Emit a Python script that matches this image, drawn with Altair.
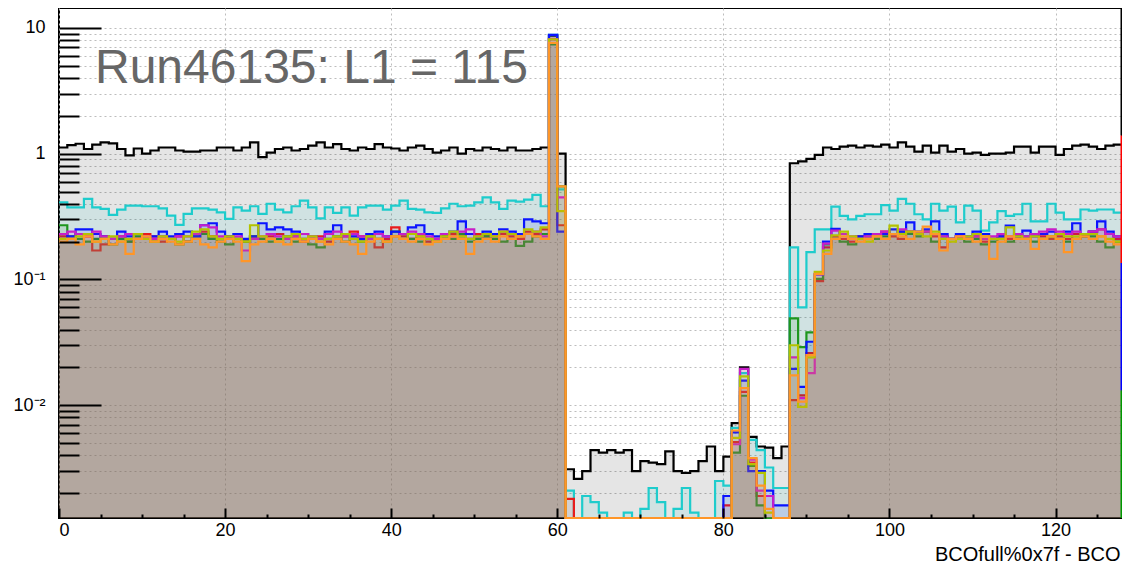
import altair as alt
import pandas as pd

W, H = 1063, 510
Y_MIN, Y_MAX = 0.00127, 14.4
FONT = "Liberation Sans"
GRID = "#bdbdbd"

TITLE_TEXT = "Run46135: L1 = 115"
X_TITLE = "BCOfull%0x7f - BCO"

x_major = [0, 20, 40, 60, 80, 100, 120]
x_minor = [5, 10, 15, 25, 30, 35, 45, 50, 55, 65, 70, 75, 85, 90, 95, 105, 110, 115, 125]
y_major = [0.01, 0.1, 1, 10]
y_minor = [k / 1000 for k in range(2, 10)] + [k / 100 for k in range(2, 10)] + \
          [k / 10 for k in range(2, 10)] + [float(k) for k in range(2, 10)]
y_all = sorted(y_major + y_minor)

# ---- histogram contents, bins 0..127 (bin width 1) ----
black = [1.12, 1.17, 1.20, 1.09, 1.18, 1.23, 1.21, 1.09, 0.97, 1.10,
         1.00, 1.06, 1.12, 1.12, 1.06, 1.04, 1.04, 1.06, 1.06, 1.12,
         1.12, 1.06, 1.12, 1.23, 0.94, 1.02, 1.09, 1.12, 1.06, 1.09,
         1.16, 1.23, 1.12, 1.19, 1.09, 1.06, 1.12, 1.09, 1.19, 1.12,
         1.10, 1.06, 1.12, 1.16, 1.09, 1.02, 1.06, 1.12, 1.00, 1.09,
         1.06, 1.12, 1.09, 1.06, 1.12, 1.06, 1.06, 1.09, 1.12,
         8.7, 1.0,
         0.0031, 0.0026, 0.0030, 0.0044, 0.0042, 0.0044, 0.0042, 0.0044, 0.0030, 0.0036,
         0.0035, 0.0034, 0.0043, 0.0030, 0.0029, 0.0030, 0.0036, 0.0047, 0.0030, 0.0039,
         0.0072, 0.020, 0.0056, 0.0047, 0.0046, 0.0038, 0.0047,
         0.84, 0.87, 0.91, 0.98, 1.12, 1.09, 1.14, 1.16, 1.12, 1.16,
         1.14, 1.18, 1.12, 1.23, 1.14, 1.04, 1.16, 1.02, 1.16, 1.04,
         1.09, 1.00, 1.02, 0.98, 1.00, 1.00, 1.02, 1.14, 1.14, 1.02,
         1.14, 1.14, 0.98, 1.09, 1.16, 1.18, 1.14, 1.09, 1.16, 1.18]

cyan = [0.41, 0.375, 0.375, 0.437, 0.375, 0.364, 0.326, 0.359, 0.387, 0.387,
        0.382, 0.382, 0.368, 0.322, 0.272, 0.332, 0.368, 0.368, 0.359, 0.342,
        0.303, 0.375, 0.353, 0.382, 0.332, 0.40, 0.359, 0.342, 0.382, 0.424,
        0.375, 0.306, 0.375, 0.338, 0.375, 0.322, 0.375, 0.387, 0.387, 0.359,
        0.387, 0.424, 0.364, 0.359, 0.342, 0.338, 0.368, 0.40, 0.382, 0.387,
        0.41, 0.45, 0.41, 0.364, 0.424, 0.416, 0.432, 0.47, 0.382,
        8.8, 0.52,
        0.0021, 0, 0.0019, 0.0017, 0.0014, 0, 0, 0.0014, 0, 0.0015,
        0.0022, 0.0017, 0, 0.0015, 0.0022, 0.0014, 0, 0, 0.0025, 0.0023,
        0.0066, 0.018, 0.0053, 0.0044, 0.0032, 0.0022, 0.0022,
        0.18, 0.06, 0.165, 0.25, 0.25, 0.38, 0.32, 0.30, 0.32, 0.33,
        0.33, 0.39, 0.353, 0.437, 0.40, 0.33, 0.30, 0.40, 0.353, 0.38,
        0.285, 0.387, 0.353, 0.245, 0.285, 0.35, 0.32, 0.33, 0.40, 0.29,
        0.29, 0.40, 0.34, 0.30, 0.30, 0.36, 0.353, 0.36, 0.36, 0.34]

red = [0.22, 0.21, 0.23, 0.22, 0.17, 0.19, 0.21, 0.22, 0.20, 0.21,
       0.23, 0.22, 0.20, 0.21, 0.22, 0.20, 0.23, 0.24, 0.22, 0.21,
       0.22, 0.21, 0.20, 0.22, 0.21, 0.22, 0.23, 0.21, 0.22, 0.20,
       0.21, 0.22, 0.20, 0.21, 0.22, 0.24, 0.22, 0.21, 0.18, 0.21,
       0.26, 0.22, 0.21, 0.22, 0.20, 0.21, 0.22, 0.23, 0.22, 0.21,
       0.23, 0.22, 0.21, 0.23, 0.22, 0.21, 0.24, 0.23, 0.25,
       8.2, 0.27,
       0.0018, 0, 0, 0, 0, 0, 0, 0, 0, 0,
       0, 0, 0, 0, 0, 0, 0, 0, 0, 0.0016,
       0.0051, 0.0128, 0.0035, 0.0019, 0, 0, 0,
       0.011, 0.012, 0.026, 0.097, 0.18, 0.22, 0.21, 0.20, 0.22, 0.21,
       0.23, 0.24, 0.22, 0.21, 0.24, 0.23, 0.24, 0.22, 0.18, 0.21,
       0.22, 0.21, 0.22, 0.20, 0.21, 0.22, 0.21, 0.22, 0.21, 0.23,
       0.22, 0.21, 0.22, 0.21, 0.23, 0.22, 0.24, 0.25, 0.23, 0.21]

green = [0.27, 0.22, 0.21, 0.20, 0.21, 0.22, 0.19, 0.21, 0.20, 0.22,
         0.21, 0.20, 0.22, 0.21, 0.19, 0.20, 0.22, 0.23, 0.21, 0.20,
         0.19, 0.21, 0.20, 0.22, 0.21, 0.20, 0.21, 0.22, 0.20, 0.21,
         0.19, 0.18, 0.21, 0.22, 0.20, 0.21, 0.20, 0.22, 0.21, 0.20,
         0.24, 0.23, 0.21, 0.20, 0.21, 0.20, 0.22, 0.21, 0.23, 0.20,
         0.21, 0.22, 0.21, 0.20, 0.21, 0.185, 0.20, 0.22, 0.23,
         7.4, 0.55,
         0, 0, 0, 0, 0, 0, 0, 0, 0, 0,
         0, 0, 0, 0, 0, 0, 0, 0, 0, 0,
         0.0042, 0.0119, 0.0033, 0.0016, 0, 0, 0,
         0.049, 0.029, 0.038, 0.101, 0.19, 0.21, 0.20, 0.19, 0.21, 0.22,
         0.21, 0.22, 0.23, 0.24, 0.23, 0.22, 0.24, 0.20, 0.22, 0.21,
         0.22, 0.20, 0.21, 0.19, 0.20, 0.21, 0.20, 0.21, 0.22, 0.20,
         0.21, 0.22, 0.21, 0.20, 0.21, 0.22, 0.22, 0.20, 0.18, 0.20]

blue = [0.23, 0.22, 0.25, 0.25, 0.23, 0.22, 0.21, 0.24, 0.22, 0.23,
        0.21, 0.22, 0.24, 0.22, 0.23, 0.24, 0.22, 0.27, 0.28, 0.24,
        0.22, 0.23, 0.21, 0.22, 0.28, 0.25, 0.26, 0.25, 0.24, 0.23,
        0.22, 0.21, 0.24, 0.27, 0.23, 0.22, 0.21, 0.23, 0.24, 0.22,
        0.24, 0.23, 0.26, 0.27, 0.23, 0.22, 0.23, 0.24, 0.29, 0.23,
        0.22, 0.24, 0.23, 0.25, 0.24, 0.23, 0.30, 0.29, 0.28,
        8.8, 0.24,
        0, 0, 0, 0, 0, 0, 0, 0, 0, 0,
        0, 0, 0, 0, 0, 0, 0, 0, 0, 0.0019,
        0.0061, 0.0157, 0.0030, 0.0030, 0.0021, 0.0016, 0.0016,
        0.0195, 0.014, 0.032, 0.11, 0.20, 0.253, 0.23, 0.21, 0.22, 0.23,
        0.22, 0.23, 0.25, 0.24, 0.285, 0.24, 0.25, 0.29, 0.23, 0.21,
        0.23, 0.22, 0.24, 0.23, 0.21, 0.22, 0.268, 0.22, 0.245, 0.22,
        0.23, 0.24, 0.23, 0.24, 0.28, 0.23, 0.24, 0.29, 0.24, 0.22]

magenta = [0.23, 0.24, 0.23, 0.22, 0.24, 0.22, 0.21, 0.22, 0.23, 0.21,
           0.22, 0.21, 0.22, 0.21, 0.22, 0.22, 0.23, 0.27, 0.26, 0.22,
           0.21, 0.22, 0.17, 0.21, 0.22, 0.23, 0.22, 0.21, 0.22, 0.23,
           0.22, 0.21, 0.23, 0.24, 0.22, 0.23, 0.22, 0.21, 0.23, 0.22,
           0.22, 0.23, 0.24, 0.23, 0.22, 0.21, 0.23, 0.22, 0.24, 0.25,
           0.22, 0.23, 0.22, 0.24, 0.23, 0.22, 0.23, 0.24, 0.22,
           8.1, 0.45,
           0, 0, 0, 0, 0, 0, 0, 0, 0, 0,
           0, 0, 0, 0, 0, 0, 0, 0, 0, 0,
           0.0049, 0.0195, 0.0037, 0.0021, 0.0019, 0, 0,
           0.024, 0.0114, 0.018, 0.11, 0.193, 0.245, 0.23, 0.22, 0.21, 0.22,
           0.23, 0.24, 0.23, 0.25, 0.24, 0.23, 0.24, 0.23, 0.22, 0.21,
           0.22, 0.21, 0.22, 0.21, 0.22, 0.23, 0.22, 0.23, 0.22, 0.23,
           0.24, 0.25, 0.24, 0.23, 0.24, 0.23, 0.24, 0.25, 0.23, 0.22]

yellow = [0.21, 0.21, 0.22, 0.23, 0.20, 0.21, 0.22, 0.20, 0.21, 0.23,
          0.21, 0.20, 0.22, 0.21, 0.20, 0.22, 0.24, 0.25, 0.22, 0.21,
          0.22, 0.21, 0.20, 0.27, 0.22, 0.21, 0.20, 0.22, 0.23, 0.21,
          0.22, 0.20, 0.21, 0.22, 0.23, 0.21, 0.20, 0.22, 0.21, 0.20,
          0.22, 0.21, 0.23, 0.22, 0.21, 0.20, 0.22, 0.24, 0.22, 0.21,
          0.22, 0.23, 0.22, 0.24, 0.23, 0.22, 0.25, 0.24, 0.26,
          8.1, 0.35,
          0, 0, 0, 0, 0, 0, 0, 0, 0, 0,
          0, 0, 0, 0, 0, 0, 0, 0, 0, 0,
          0.0055, 0.017, 0.0034, 0.0029, 0.0014, 0, 0,
          0.030, 0.0097, 0.024, 0.115, 0.17, 0.224, 0.24, 0.22, 0.21, 0.20,
          0.22, 0.21, 0.268, 0.23, 0.24, 0.23, 0.22, 0.24, 0.21, 0.20,
          0.21, 0.22, 0.23, 0.22, 0.21, 0.21, 0.26, 0.22, 0.21, 0.22,
          0.21, 0.22, 0.23, 0.22, 0.22, 0.23, 0.23, 0.22, 0.21, 0.20]

orange = [0.20, 0.21, 0.19, 0.22, 0.20, 0.21, 0.19, 0.20, 0.16, 0.21,
          0.22, 0.20, 0.21, 0.20, 0.19, 0.20, 0.21, 0.19, 0.18, 0.20,
          0.21, 0.20, 0.14, 0.19, 0.20, 0.21, 0.20, 0.19, 0.21, 0.20,
          0.21, 0.20, 0.19, 0.21, 0.20, 0.19, 0.16, 0.20, 0.21, 0.20,
          0.22, 0.21, 0.20, 0.21, 0.19, 0.20, 0.21, 0.22, 0.21, 0.16,
          0.20, 0.21, 0.20, 0.22, 0.21, 0.22, 0.23, 0.22, 0.21,
          7.6, 0.55,
          0, 0, 0, 0, 0, 0, 0, 0, 0, 0,
          0, 0, 0, 0, 0, 0, 0, 0, 0, 0,
          0.0063, 0.0137, 0.0038, 0.0023, 0.0015, 0, 0,
          0.0173, 0.0107, 0.025, 0.111, 0.16, 0.21, 0.22, 0.21, 0.20, 0.21,
          0.22, 0.21, 0.23, 0.22, 0.21, 0.24, 0.263, 0.23, 0.17, 0.21,
          0.22, 0.21, 0.20, 0.22, 0.146, 0.20, 0.22, 0.21, 0.21, 0.175,
          0.21, 0.22, 0.21, 0.165, 0.21, 0.22, 0.21, 0.22, 0.20, 0.19]

# name, values, line colour, fill opacity
series = [
    ("black", black, "#000000", 0.10),
    ("cyan", cyan, "#1ecccc", 0.10),
    ("red", red, "#e81c1c", 0.085),
    ("green", green, "#1e961e", 0.12),
    ("blue", blue, "#0a14ff", 0.10),
    ("magenta", magenta, "#c81ec8", 0.085),
    ("yellow", yellow, "#b4c300", 0.10),
    ("orange", orange, "#ff9628", 0.10),
]
for _n, _v, _c, _o in series:
    assert len(_v) == 128, (_n, len(_v))

strip_colors = ["#000000", "#ff0000", "#0000ff", "#009900"]

# ---- scales & axes ----
xscale = alt.Scale(domain=[0, 128], nice=False, zero=False)
yscale = alt.Scale(type="log", domain=[Y_MIN, Y_MAX], nice=False, clamp=True)

label_expr = ("datum.value == 10 ? '10' : datum.value == 1 ? '1' : "
              "datum.value == 0.1 ? '10\u207b\u00b9' : datum.value == 0.01 ? '10\u207b\u00b2' : ''")

x_label_axis = alt.Axis(values=x_major, format="d", grid=True, gridColor=GRID, gridDash=[2, 3],
                        gridWidth=1, ticks=False, domain=False, labelFont=FONT, labelFontSize=18,
                        labelColor="black", labelPadding=3, title=X_TITLE, titleFont=FONT,
                        titleFontSize=20, titleFontWeight="normal", titleColor="black",
                        titleAlign="right", titleAnchor="end", titleX=W - 2, titleY=42,
                        titleBaseline="alphabetic", zindex=0)
y_label_axis = alt.Axis(values=y_all, grid=True, gridColor=GRID, gridDash=[2, 3], gridWidth=1,
                        ticks=False, domain=False, labelExpr=label_expr, labelFont=FONT,
                        labelFontSize=18, labelColor="black", labelPadding=14,
                        labelOverlap=False, title=None, zindex=0)
x_major_axis = alt.Axis(values=x_major, orient="bottom", offset=-10, tickSize=10, tickWidth=2,
                        tickColor="black", labels=False, domain=False, grid=False, title=None,
                        zindex=1)
x_minor_axis = alt.Axis(values=x_minor, orient="bottom", offset=-4, tickSize=4, tickWidth=2,
                        tickColor="black", labels=False, domain=False, grid=False, title=None,
                        zindex=1)
y_major_axis = alt.Axis(values=y_major, orient="left", offset=-42, tickSize=42, tickWidth=2,
                        tickColor="black", labels=False, domain=False, grid=False, title=None,
                        zindex=1)
y_minor_axis = alt.Axis(values=y_minor, orient="left", offset=-20, tickSize=20, tickWidth=2,
                        tickColor="black", labels=False, domain=False, grid=False, title=None,
                        zindex=1)

axes_for_layer = {
    0: (x_label_axis, y_label_axis),
    1: (x_major_axis, y_major_axis),
    2: (x_minor_axis, y_minor_axis),
}

layers = []
li = 0
for name, vals, color, fop in series:
    df = pd.DataFrame({"x": list(range(129)), "v": vals + [vals[-1]]})
    base = alt.Chart(df).transform_calculate(yv=f"max(datum.v, {Y_MIN / 3})")
    for kind in ("area", "line"):
        xa, ya = axes_for_layer.get(li, (None, None))
        enc = dict(x=alt.X("x:Q", scale=xscale, axis=xa),
                   y=alt.Y("yv:Q", scale=yscale, axis=ya))
        if kind == "area":
            mk = base.mark_area(interpolate="step-after", color=color, opacity=fop)
            layers.append(mk.encode(y2=alt.value(H), **enc))
        else:
            mk = base.mark_line(interpolate="step-after", color=color, strokeWidth=2.2)
            layers.append(mk.encode(**enc))
        li += 1

# colored strip on the right frame edge
one = pd.DataFrame({"a": [0]})
for i, c in enumerate(strip_colors):
    layers.append(alt.Chart(one).mark_rule(color=c, strokeWidth=3).encode(
        x=alt.value(W), y=alt.value(H * i / 4), y2=alt.value(H * (i + 1) / 4)))

# run label
title_df = pd.DataFrame({"t": [TITLE_TEXT]})
layers.append(alt.Chart(title_df).mark_text(
    align="left", baseline="alphabetic", font=FONT, fontSize=48, color="#666666").encode(
    text="t:N", x=alt.value(36), y=alt.value(75)))

chart = alt.layer(*layers).resolve_axis(x="independent", y="independent").properties(
    width=W, height=H,
    autosize=alt.AutoSizeParams(type="none"),
    padding={"left": 51, "top": 0, "right": 0, "bottom": 47},
    background="white",
).configure_view(stroke="black", strokeWidth=2)

chart.save("out.html", embed_options={"renderer": "svg", "actions": False})
